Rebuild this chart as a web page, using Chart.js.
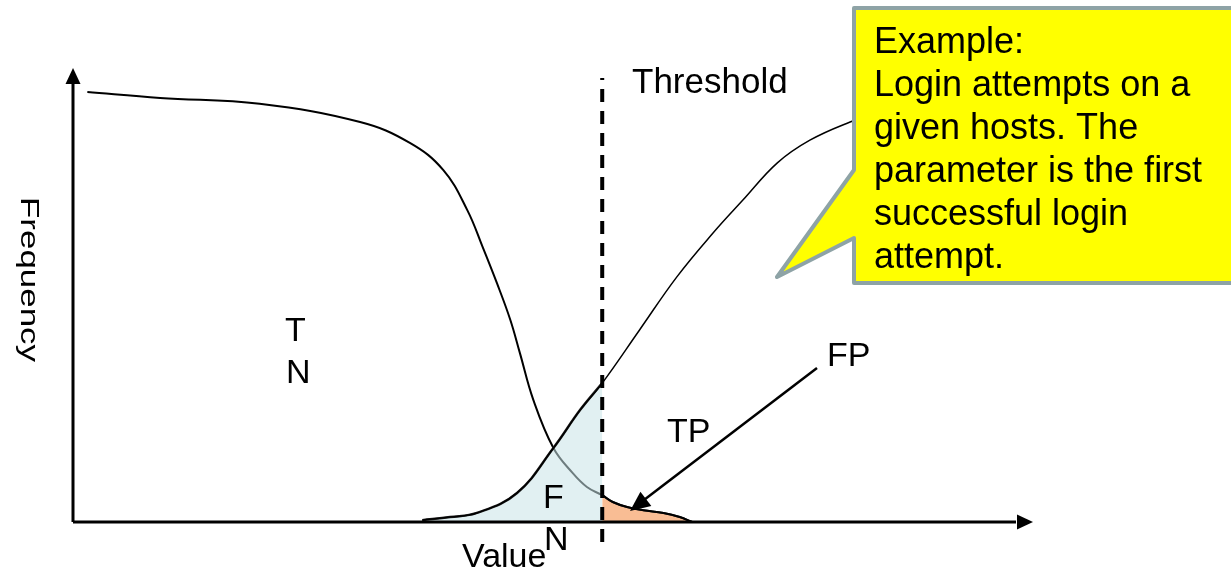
<!DOCTYPE html>
<html>
<head>
<meta charset="utf-8">
<script src="https://cdn.jsdelivr.net/npm/chart.js@4.4.0/dist/chart.umd.min.js"></script>
<style>
  html, body { margin: 0; padding: 0; background: #fff; }
  #wrap { width: 1231px; height: 571px; }
</style>
</head>
<body>
<div id="wrap"><canvas id="myChart" width="1231" height="571"></canvas></div>
<script>
// value axis runs 0..100, frequency 0..100 (arbitrary units)
const threshold = 55.3;

// negative population (TN curve, falls off to the right)
const tnValue = [1.5, 9.1, 19.5, 30.0, 35.2, 38.7, 41.2, 42.8, 44.3, 45.7, 46.7, 48.1, 50.2, 52.2, 53.7, 55.3, 56.4, 57.9, 59.6, 61.7, 63.4, 64.7];
const tnFreq  = [94.7, 93.4, 92.1, 88.1, 83.5, 77.5, 68.7, 60.6, 52.6, 44.5, 37.2, 26.9, 16.3, 10.8, 7.7, 5.9, 4.4, 3.3, 2.6, 2.0, 1.1, 0];

// positive population (TP curve, rises to the right)
const tpValue = [36.5, 39.4, 42.2, 46.4, 50.2, 53.0, 55.3, 59.2, 63.1, 66.9, 70.0, 73.6, 77.0, 81.2, 84.3];
const tpFreq  = [0.4, 1.1, 2.0, 6.4, 16.3, 24.7, 30.6, 42.3, 54.0, 63.7, 70.9, 79.1, 84.1, 88.1, 90.3];

const calloutLines = ['Example:', 'Login attempts on a', 'given hosts. The', 'parameter is the first', 'successful login', 'attempt.'];

const pts = (xs, ys) => xs.map((x, i) => ({ x: x, y: ys[i] }));
const tnPts = pts(tnValue, tnFreq);
const tpPts = pts(tpValue, tpFreq);
const fnPts = tpPts.filter(p => p.x <= threshold); // missed positives
const fpPts = tnPts.filter(p => p.x >= threshold); // negatives over the line

const FONT = '"Liberation Sans", Arial, sans-serif';

function arrowHead(ctx, x1, y1, x2, y2, len, half) {
  const a = Math.atan2(y2 - y1, x2 - x1);
  ctx.beginPath();
  ctx.moveTo(x2, y2);
  ctx.lineTo(x2 - len * Math.cos(a) + half * Math.sin(a), y2 - len * Math.sin(a) - half * Math.cos(a));
  ctx.lineTo(x2 - len * Math.cos(a) - half * Math.sin(a), y2 - len * Math.sin(a) + half * Math.cos(a));
  ctx.closePath();
  ctx.fill();
}

const overlay = {
  id: 'overlay',
  afterDatasetsDraw(chart) {
    const ctx = chart.ctx;
    const xs = chart.scales.x, ys = chart.scales.y;
    const x0 = xs.getPixelForValue(0), y0 = ys.getPixelForValue(0);
    const xEnd = xs.getPixelForValue(100), yTop = ys.getPixelForValue(100);
    ctx.save();
    ctx.fillStyle = '#000';
    ctx.strokeStyle = '#000';

    // axes with arrows
    ctx.lineWidth = 3;
    ctx.beginPath();
    ctx.moveTo(x0, y0); ctx.lineTo(x0, yTop + 14);
    ctx.moveTo(x0, y0); ctx.lineTo(xEnd - 14, y0);
    ctx.stroke();
    arrowHead(ctx, x0, y0, x0, yTop, 16, 7.5);
    arrowHead(ctx, x0, y0, xEnd + 3, y0, 16, 7.5);

    // threshold
    const tx = xs.getPixelForValue(threshold);
    ctx.lineWidth = 4;
    ctx.setLineDash([13, 9]);
    ctx.lineDashOffset = 11;
    ctx.beginPath();
    ctx.moveTo(tx, 78); ctx.lineTo(tx, 548);
    ctx.stroke();
    ctx.setLineDash([]);

    // FP pointer
    ctx.lineWidth = 2.5;
    ctx.beginPath();
    ctx.moveTo(817, 368); ctx.lineTo(640, 503);
    ctx.stroke();
    arrowHead(ctx, 817, 368, 630, 511, 20, 9);

    // labels
    ctx.textBaseline = 'alphabetic';
    ctx.textAlign = 'left';
    ctx.font = '35px ' + FONT;
    ctx.fillText('Threshold', 632, 93);
    ctx.font = '34px ' + FONT;
    ctx.fillText('T', 285, 341);
    ctx.fillText('N', 286, 383);
    ctx.fillText('F', 543, 508);
    ctx.fillText('N', 544, 550);
    ctx.fillText('Value', 462, 567);
    ctx.fillText('TP', 667, 442);
    ctx.fillText('FP', 827, 366);

    // y axis title, stretched like the source
    ctx.save();
    ctx.font = '25px ' + FONT;
    const w = ctx.measureText('Frequency').width;
    ctx.translate(21, 197);
    ctx.rotate(Math.PI / 2);
    ctx.scale(165 / w, 1);
    ctx.fillText('Frequency', 0, 0);
    ctx.restore();

    // callout
    ctx.beginPath();
    ctx.moveTo(854, 8);
    ctx.lineTo(1245, 8);
    ctx.lineTo(1245, 283);
    ctx.lineTo(854, 283);
    ctx.lineTo(854, 238);
    ctx.lineTo(777, 277);
    ctx.lineTo(854, 170);
    ctx.closePath();
    ctx.fillStyle = '#ffff00';
    ctx.fill();
    ctx.lineWidth = 4;
    ctx.lineJoin = 'round';
    ctx.strokeStyle = '#8ea3a6';
    ctx.stroke();
    ctx.fillStyle = '#000';
    ctx.font = '36px ' + FONT;
    calloutLines.forEach((t, i) => ctx.fillText(t, 874, 53 + i * 43));

    ctx.restore();
  }
};

new Chart(document.getElementById('myChart'), {
  type: 'line',
  data: {
    datasets: [
      {
        label: 'TP',
        data: tpPts,
        borderColor: '#000',
        borderWidth: 1.5,
        pointRadius: 0,
        fill: false,
        tension: 0.4,
        order: 1
      },
      {
        label: 'FN',
        data: fnPts,
        borderColor: '#222',
        borderWidth: 2.5,
        backgroundColor: 'rgba(200,228,231,0.55)',
        pointRadius: 0,
        fill: 'origin',
        tension: 0.4,
        order: 2
      },
      {
        label: 'TN',
        data: tnPts,
        borderColor: '#000',
        borderWidth: 2,
        pointRadius: 0,
        fill: false,
        tension: 0.4,
        order: 3
      },
      {
        label: 'FP',
        data: fpPts,
        borderColor: '#222',
        borderWidth: 2,
        backgroundColor: '#f9bd94',
        pointRadius: 0,
        fill: 'origin',
        tension: 0.4,
        order: 4
      }
    ]
  },
  options: {
    responsive: false,
    animation: false,
    devicePixelRatio: 1,
    layout: { padding: { left: 73, right: 201, top: 68, bottom: 49 } },
    scales: {
      x: { type: 'linear', min: 0, max: 100, display: false },
      y: { type: 'linear', min: 0, max: 100, display: false }
    },
    plugins: {
      legend: { display: false },
      tooltip: { enabled: false }
    }
  },
  plugins: [overlay]
});
</script>
</body>
</html>
